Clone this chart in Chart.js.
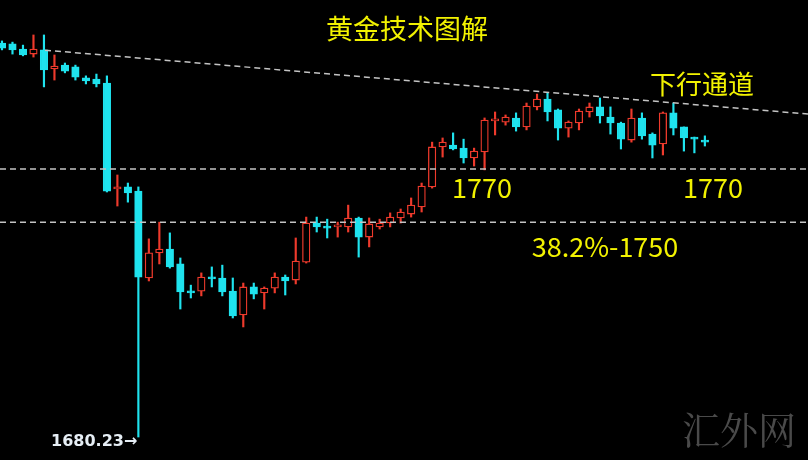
<!DOCTYPE html>
<html><head><meta charset="utf-8">
<script src="https://cdn.jsdelivr.net/npm/chart.js@4.4.1/dist/chart.umd.min.js"></script>
<style>html,body{margin:0;padding:0;background:#000;overflow:hidden}#wrap{width:808px;height:460px;position:relative}canvas{display:block}</style>
</head><body><div id="wrap"><canvas id="c" width="808" height="460"></canvas></div>
<script>
// Candle data (index = candle number), prices
const opens  = [1812.2,1811.9,1810.2,1808.5,1809.9,1803.5,1804.8,1804.2,1800.5,1800.1,1798.8,1763.3,1764.0,1762.6,1733.5,1741.9,1743.2,1738.2,1729.1,1729.1,1733.8,1733.5,1729.1,1721.1,1730.5,1728.5,1730.1,1733.8,1732.8,1738.8,1751.9,1750.9,1750.6,1750.6,1753.6,1747.2,1750.6,1751.9,1753.6,1754.9,1757.3,1764.0,1777.4,1778.0,1777.0,1773.7,1775.7,1786.1,1785.7,1787.1,1784.1,1790.8,1793.4,1789.8,1783.7,1785.4,1789.1,1790.8,1787.4,1785.4,1779.7,1787.1,1781.7,1778.4,1788.8,1784.1,1780.7,1779.4];
const highs  = [1812.9,1812.5,1811.5,1814.9,1814.9,1808.2,1805.5,1804.8,1801.2,1801.8,1801.2,1768.0,1765.3,1764.0,1746.6,1752.2,1748.6,1740.2,1731.1,1735.2,1737.2,1737.8,1733.5,1731.8,1731.8,1730.5,1735.2,1734.5,1746.9,1753.9,1753.9,1753.2,1752.2,1757.9,1753.9,1753.6,1753.2,1755.3,1756.6,1760.3,1765.3,1779.0,1780.4,1782.1,1780.0,1777.0,1787.1,1789.1,1788.1,1788.8,1792.1,1795.1,1795.5,1790.1,1786.1,1790.1,1792.1,1793.8,1790.8,1785.7,1790.1,1788.8,1782.1,1789.1,1792.1,1784.1,1780.7,1781.1];
const lows   = [1809.9,1808.5,1807.9,1807.5,1797.5,1799.8,1802.2,1799.8,1798.5,1797.5,1762.3,1757.6,1758.9,1680.23,1732.5,1738.2,1736.8,1723.1,1726.8,1727.5,1730.5,1727.5,1720.1,1717.1,1726.5,1723.1,1728.5,1727.8,1731.5,1738.5,1748.9,1746.9,1747.2,1748.9,1740.5,1743.9,1749.9,1750.6,1751.9,1753.9,1755.6,1763.6,1774.0,1776.4,1772.0,1771.0,1769.7,1781.4,1784.7,1782.7,1783.1,1789.8,1786.1,1779.7,1780.7,1783.1,1787.4,1785.4,1781.7,1776.7,1779.0,1780.0,1773.7,1774.7,1781.4,1776.0,1775.4,1777.7];
const closes = [1810.5,1809.9,1808.2,1810.2,1803.2,1804.5,1802.8,1800.8,1799.5,1798.5,1762.6,1764.0,1762.0,1733.8,1741.9,1743.2,1737.2,1728.8,1728.5,1733.8,1733.2,1728.8,1720.8,1730.5,1728.1,1730.1,1733.8,1732.5,1739.2,1751.9,1750.6,1750.2,1751.2,1753.6,1747.2,1751.6,1751.9,1753.9,1755.6,1757.9,1764.3,1777.4,1779.0,1776.7,1773.7,1776.0,1786.4,1786.7,1787.4,1784.1,1791.1,1793.4,1789.1,1783.7,1785.7,1789.4,1790.8,1787.8,1785.4,1780.0,1787.1,1781.1,1778.0,1788.8,1783.7,1780.4,1780.0,1779.0];
const supportLevel = 1770;
const fibLevel = 1752.2;
const trendX = [4.1, 76.83];
const trendY = [1809.8, 1788.4];
const lowLabel = '1680.23';

const UP = '#ee3a2c', DOWN = '#1fe3ee', DASH = '#c4c4c4', YEL = '#f2f200';
const X_MIN = -0.19, X_MAX = 76.83;
const isUp = i => closes[i] >= opens[i];

const textPlugin = {
  id: 'texts',
  afterDraw(chart) {
    const ctx = chart.ctx, xs = chart.scales.x, ys = chart.scales.y;
    ctx.save();
    // watermark
    ctx.fillStyle = '#4a4a4a';
    ctx.font = '38px "Noto Serif CJK SC", "Noto Sans CJK SC", serif';
    ctx.textAlign = 'center'; ctx.textBaseline = 'alphabetic';
    ctx.fillText('汇外网', 739, 444);
    // yellow annotations
    ctx.fillStyle = YEL;
    ctx.font = '27px "Noto Sans CJK SC"';
    ctx.fillText('黄金技术图解', 407, 39);
    ctx.font = '26px "Noto Sans CJK SC"';
    ctx.fillText('下行通道', 702, 94);
    ctx.font = '27px "Noto Sans CJK SC"';
    const y1770 = ys.getPixelForValue(supportLevel);
    ctx.fillText(String(supportLevel), 482, y1770 + 29);
    ctx.fillText(String(supportLevel), 713, y1770 + 29);
    const yFib = ys.getPixelForValue(fibLevel);
    ctx.fillText('38.2%-1750', 605, yFib + 35);
    // low label
    ctx.fillStyle = '#e6eef5';
    ctx.font = 'bold 16px "DejaVu Sans", sans-serif';
    ctx.textAlign = 'right';
    ctx.fillText(lowLabel + '→', xs.getPixelForValue(13) - 1, ys.getPixelForValue(lows[13]) + 9);
    ctx.restore();
  }
};

const lineDs = (pts) => ({
  type: 'line', data: pts, borderColor: DASH, borderWidth: 1.5, borderDash: [6, 4],
  pointRadius: 0, fill: false, order: -1, tension: 0
});

new Chart(document.getElementById('c'), {
  type: 'bar',
  data: {
    datasets: [
      {
        label: 'body', order: 0, grouped: false,
        data: opens.map((o, i) => ({ x: i, y: [o, closes[i]] })),
        backgroundColor: c => isUp(c.dataIndex) ? '#000' : DOWN,
        borderColor: c => isUp(c.dataIndex) ? UP : DOWN,
        borderWidth: 1.3, borderSkipped: false, barThickness: 7.5, minBarLength: 2
      },
      {
        label: 'wick', order: 1, grouped: false,
        data: lows.map((l, i) => ({ x: i, y: [l, highs[i]] })),
        backgroundColor: c => isUp(c.dataIndex) ? UP : DOWN,
        borderWidth: 0, barThickness: 1.5
      },
      lineDs([{ x: X_MIN, y: supportLevel }, { x: X_MAX, y: supportLevel }]),
      lineDs([{ x: X_MIN, y: fibLevel }, { x: X_MAX, y: fibLevel }]),
      lineDs([{ x: trendX[0], y: trendY[0] }, { x: trendX[1], y: trendY[1] }])
    ]
  },
  options: {
    responsive: false, animation: false, devicePixelRatio: 1,
    layout: { padding: 0 },
    scales: {
      x: { type: 'linear', min: X_MIN, max: X_MAX, offset: false, display: false },
      y: { min: 1672.53, max: 1826.61, display: false }
    },
    plugins: { legend: { display: false }, tooltip: { enabled: false }, title: { display: false } }
  },
  plugins: [textPlugin]
});
</script></body></html>
